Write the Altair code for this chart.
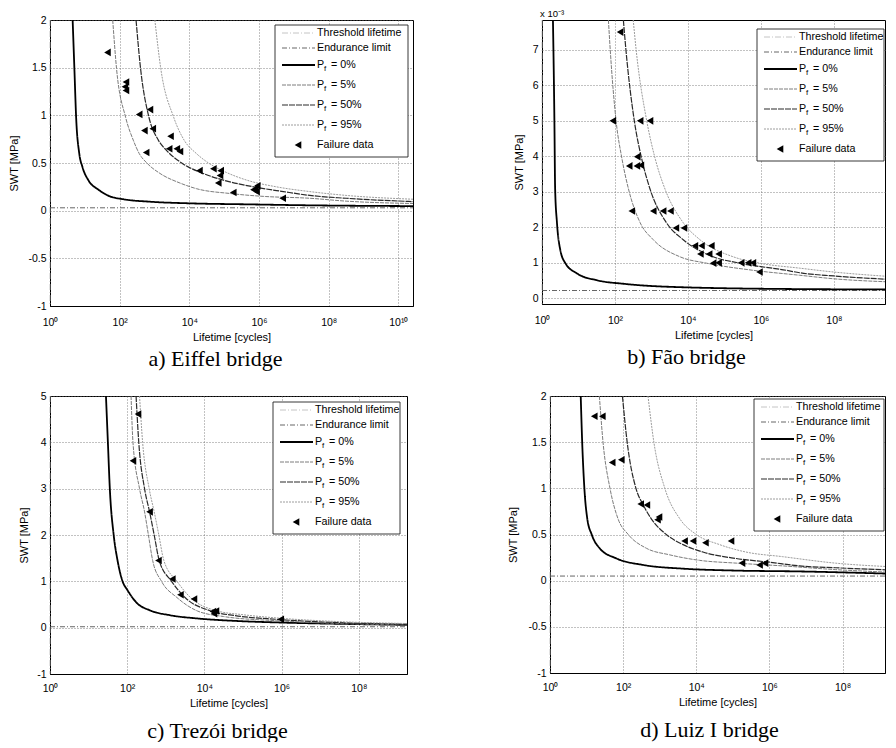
import altair as alt
import pandas as pd

# ---------------- data ----------------
# points are (log10 of lifetime in cycles, SWT in MPa)

# a) Eiffel bridge
A_P0 = [(0.65, 2.0), (0.70, 1.49), (0.75, 0.98), (0.84, 0.60), (0.93, 0.46), (1.10, 0.32),
        (1.39, 0.22), (1.72, 0.15), (2.10, 0.12), (2.87, 0.094), (4.0, 0.077), (5.74, 0.066),
        (7.46, 0.056), (10.42, 0.048)]
A_P5 = [(1.80, 2.0), (1.91, 1.49), (2.17, 0.98), (2.39, 0.74), (2.56, 0.60), (2.78, 0.50),
        (3.16, 0.39), (3.73, 0.29), (4.21, 0.23), (5.17, 0.18), (6.12, 0.15), (7.46, 0.13),
        (8.5, 0.10), (10.42, 0.075)]
A_P50 = [(2.47, 2.0), (2.60, 1.49), (2.84, 0.98), (3.11, 0.74), (3.35, 0.63), (3.78, 0.50),
         (4.40, 0.39), (4.98, 0.32), (5.84, 0.25), (6.70, 0.20), (7.46, 0.16), (8.5, 0.13),
         (10.42, 0.095)]
A_P95 = [(3.01, 2.0), (3.18, 1.49), (3.55, 0.98), (3.85, 0.74), (4.20, 0.60), (4.55, 0.50),
         (5.07, 0.40), (5.65, 0.32), (6.50, 0.25), (7.46, 0.20), (8.5, 0.16), (10.42, 0.12)]
A_FAIL = [(1.65, 1.66), (2.18, 1.35), (2.15, 1.30), (2.18, 1.26), (2.56, 1.01), (2.87, 1.06),
          (2.71, 0.84), (2.95, 0.86), (2.76, 0.61), (3.46, 0.78), (3.42, 0.65), (3.64, 0.65),
          (3.73, 0.62), (4.29, 0.42), (4.69, 0.44), (4.90, 0.42), (4.88, 0.37), (4.83, 0.29),
          (5.26, 0.19), (5.89, 0.22), (5.95, 0.26), (5.93, 0.20), (5.84, 0.22), (6.68, 0.13)]
A_ENDURANCE = 0.03
A_THRESHOLD = 0.0

# b) Fao bridge
B_P0 = [(0.30, 7.84e-3), (0.34, 5.0e-3), (0.36, 3.08e-3), (0.41, 2.13e-3), (0.50, 1.37e-3),
        (0.64, 0.99e-3), (0.96, 0.70e-3), (1.50, 0.51e-3), (2.23, 0.41e-3), (3.6, 0.32e-3),
        (7.06, 0.26e-3), (9.59, 0.25e-3)]
B_P5 = [(1.82, 7.84e-3), (1.87, 7.0e-3), (2.03, 5.0e-3), (2.19, 3.94e-3), (2.37, 3.08e-3),
        (2.69, 2.13e-3), (3.05, 1.65e-3), (3.78, 1.17e-3), (4.51, 0.99e-3), (5.78, 0.79e-3),
        (7.06, 0.65e-3), (8.0, 0.55e-3), (9.59, 0.46e-3)]
B_P50 = [(2.23, 7.84e-3), (2.30, 7.0e-3), (2.53, 5.0e-3), (2.73, 3.94e-3), (2.96, 3.08e-3),
         (3.41, 2.13e-3), (3.87, 1.65e-3), (4.69, 1.17e-3), (5.42, 0.99e-3), (6.69, 0.79e-3),
         (7.06, 0.72e-3), (8.0, 0.63e-3), (9.59, 0.53e-3)]
B_P95 = [(2.50, 7.84e-3), (2.58, 7.0e-3), (2.87, 5.0e-3), (3.10, 3.94e-3), (3.37, 3.08e-3),
         (3.87, 2.13e-3), (4.33, 1.65e-3), (5.24, 1.17e-3), (5.96, 0.99e-3), (7.06, 0.85e-3),
         (8.0, 0.74e-3), (9.59, 0.61e-3)]
B_FAIL = [(2.14, 7.5e-3), (1.94, 5.0e-3), (2.69, 5.0e-3), (2.96, 5.0e-3), (2.61, 3.99e-3),
          (2.39, 3.73e-3), (2.60, 3.73e-3), (2.71, 3.75e-3), (2.46, 2.46e-3), (3.05, 2.46e-3),
          (3.32, 2.46e-3), (3.52, 2.46e-3), (3.67, 1.98e-3), (3.89, 1.98e-3), (4.19, 1.48e-3),
          (4.37, 1.48e-3), (4.64, 1.48e-3), (4.34, 1.25e-3), (4.58, 1.25e-3), (4.84, 1.25e-3),
          (4.69, 0.99e-3), (4.84, 1.0e-3), (5.46, 1.0e-3), (5.65, 1.0e-3), (5.78, 1.0e-3),
          (5.96, 0.74e-3)]
B_ENDURANCE = 0.22e-3
B_THRESHOLD = 0.0

# c) Trezoi bridge
C_P0 = [(1.45, 5.0), (1.50, 4.0), (1.55, 3.0), (1.65, 2.0), (1.75, 1.45), (1.88, 1.0),
        (2.0, 0.82), (2.23, 0.55), (2.6, 0.37), (3.1, 0.27), (3.8, 0.20), (4.7, 0.15),
        (6.0, 0.11), (7.7, 0.08), (9.25, 0.06)]
C_P5 = [(2.10, 5.0), (2.15, 4.0), (2.32, 3.0), (2.45, 2.5), (2.55, 2.0), (2.66, 1.45),
        (2.89, 1.0), (3.29, 0.65), (3.82, 0.36), (4.5, 0.24), (5.87, 0.15), (7.5, 0.09),
        (9.25, 0.06)]
C_P50 = [(2.23, 5.0), (2.30, 4.0), (2.45, 3.0), (2.58, 2.5), (2.70, 2.0), (2.83, 1.45),
         (3.15, 1.0), (3.50, 0.65), (4.17, 0.36), (4.8, 0.26), (5.87, 0.18), (7.5, 0.11),
         (9.25, 0.075)]
C_P95 = [(2.32, 5.0), (2.40, 4.0), (2.57, 3.0), (2.70, 2.5), (2.82, 2.0), (2.95, 1.45),
         (3.29, 1.0), (3.64, 0.65), (4.34, 0.36), (5.0, 0.28), (5.87, 0.21), (7.5, 0.13),
         (9.25, 0.09)]
C_FAIL = [(2.28, 4.61), (2.15, 3.6), (2.58, 2.5), (2.81, 1.45), (3.17, 1.05), (3.38, 0.71),
          (3.73, 0.62), (4.22, 0.35), (4.30, 0.36), (4.25, 0.30), (5.98, 0.18)]
C_ENDURANCE = 0.02
C_THRESHOLD = 0.0

# d) Luiz I bridge
D_P0 = [(0.84, 2.0), (0.88, 1.5), (0.94, 1.0), (1.02, 0.67), (1.14, 0.5), (1.36, 0.35),
        (1.82, 0.24), (2.55, 0.17), (3.64, 0.13), (5.0, 0.11), (6.82, 0.10), (9.35, 0.075)]
D_P5 = [(1.35, 2.0), (1.45, 1.5), (1.64, 1.0), (1.86, 0.67), (2.14, 0.5), (2.64, 0.35),
        (3.27, 0.28), (4.09, 0.22), (5.09, 0.19), (6.36, 0.16), (7.8, 0.12), (9.35, 0.09)]
D_P50 = [(1.98, 2.0), (2.11, 1.5), (2.35, 1.0), (2.55, 0.82), (2.77, 0.67), (3.18, 0.5),
         (3.64, 0.39), (4.18, 0.31), (5.09, 0.24), (6.0, 0.20), (6.82, 0.16), (7.8, 0.14),
         (9.35, 0.115)]
D_P95 = [(2.68, 2.0), (2.84, 1.5), (3.14, 1.0), (3.55, 0.67), (4.0, 0.5), (4.64, 0.39),
         (5.36, 0.31), (6.36, 0.26), (7.8, 0.19), (9.35, 0.15)]
D_FAIL = [(1.21, 1.78), (1.43, 1.78), (1.70, 1.28), (1.95, 1.31), (2.48, 0.83), (2.65, 0.82),
          (2.94, 0.66), (2.98, 0.69), (3.68, 0.43), (3.91, 0.43), (4.25, 0.41), (4.95, 0.43),
          (5.25, 0.19), (5.73, 0.17), (5.88, 0.19)]
D_ENDURANCE = 0.05
D_THRESHOLD = 0.0

LEGEND_LABELS = ["Threshold lifetime", "Endurance limit", "= 0%", "= 5%", "= 50%", "= 95%",
                 "Failure data"]
X_TICKS = [1, 1e2, 1e4, 1e6, 1e8, 1e10]

# ---------------- styling ----------------
FONT = "Liberation Sans"
SERIF = "Liberation Serif"
STYLE = {
    "thr": dict(color="#b5b5b5", strokeDash=[6, 2, 1, 2], strokeWidth=0.8),
    "end": dict(color="#555555", strokeDash=[5, 2, 1, 2], strokeWidth=0.9),
    "p0": dict(color="#000000", strokeDash=[1, 0], strokeWidth=1.8),
    "p5": dict(color="#7c7c7c", strokeDash=[4, 1], strokeWidth=1.0),
    "p50": dict(color="#2a2a2a", strokeDash=[6, 1], strokeWidth=1.2),
    "p95": dict(color="#9c9c9c", strokeDash=[2, 1], strokeWidth=1.0),
}
LEGEND_KEYS = ["thr", "end", "p0", "p5", "p50", "p95", "fail"]
LEG_ROWS = [8, 23, 40, 60, 80, 100, 120]
LEG_H = 132
LEG_FS = 10.7
TRI = 58

SUP = ("datum.value < 10 ? '10\u2070' : datum.value < 1e3 ? '10\u00b2' : "
       "datum.value < 1e5 ? '10\u2074' : datum.value < 1e7 ? '10\u2076' : "
       "datum.value < 1e9 ? '10\u2078' : '10\u00b9\u2070'")


def pts_df(pts):
    return pd.DataFrame({"N": [10 ** e for e, _ in pts], "swt": [v for _, v in pts]})


ONE = pd.DataFrame({"k": [0]})


def txt(text, x, y, size=LEG_FS):
    return (alt.Chart(ONE)
            .mark_text(text=text, align="left", baseline="middle", font=FONT,
                       fontSize=size, color="black")
            .encode(x=alt.value(x), y=alt.value(y)))


def panel(curves, fail, endurance, threshold, xmax, ydom, yvals, ylab, w, h, box, cap,
          cap_dx, cap_off, ytp, xlp, note=None):
    X = alt.X("N:Q",
              scale=alt.Scale(type="log", domain=[1, 10 ** xmax], nice=False),
              axis=alt.Axis(values=[v for v in X_TICKS if v <= 10 ** xmax], labelExpr=SUP,
                            title="Lifetime [cycles]", labelFlush=False, labelOverlap=False,
                            labelPadding=xlp, titlePadding=4))
    Y = alt.Y("swt:Q",
              scale=alt.Scale(domain=ydom, nice=False, zero=False),
              axis=alt.Axis(values=yvals, labelExpr=ylab, title="SWT [MPa]",
                            labelFlush=False, labelOverlap=False, labelPadding=4,
                            titlePadding=ytp))
    layers = []
    layers.append(alt.Chart(pd.DataFrame({"N": [10 ** threshold]}))
                  .mark_rule(**STYLE["thr"])
                  .encode(x=X, y=alt.value(0), y2=alt.value(h)))
    layers.append(alt.Chart(pd.DataFrame({"swt": [endurance]}))
                  .mark_rule(**STYLE["end"])
                  .encode(y=Y, x=alt.value(0), x2=alt.value(w)))
    for key, pts in zip(["p0", "p5", "p50", "p95"], curves):
        layers.append(alt.Chart(pts_df(pts))
                      .mark_line(interpolate="monotone", clip=True, **STYLE[key])
                      .encode(x=X, y=Y))
    layers.append(alt.Chart(pts_df(fail))
                  .mark_point(shape="triangle-left", filled=True, color="black",
                              size=TRI, opacity=1, clip=True)
                  .encode(x=X, y=Y))
    # legend
    bx, by, bw = box
    layers.append(alt.Chart(ONE).mark_rect(fill="white", stroke="#222", strokeWidth=0.9)
                  .encode(x=alt.value(bx), x2=alt.value(bx + bw),
                          y=alt.value(by), y2=alt.value(by + LEG_H)))
    for key, row, lab in zip(LEGEND_KEYS, LEG_ROWS, LEGEND_LABELS):
        yy = by + row
        if key == "fail":
            layers.append(alt.Chart(ONE)
                          .mark_point(shape="triangle-left", filled=True, color="black",
                                      size=TRI, opacity=1)
                          .encode(x=alt.value(bx + 23), y=alt.value(yy)))
        else:
            layers.append(alt.Chart(ONE).mark_rule(**STYLE[key])
                          .encode(x=alt.value(bx + 7), x2=alt.value(bx + 40),
                                  y=alt.value(yy)))
        if lab.startswith("="):
            layers.append(txt("P", bx + 42, yy))
            layers.append(txt("f", bx + 49, yy + 4, 8))
            layers.append(txt(lab, bx + 56, yy))
        else:
            layers.append(txt(lab, bx + 42, yy))
    if note:
        layers.append(txt(note, -2, -6, 9.5))
    return alt.layer(*layers).properties(
        width=w, height=h,
        title=alt.Title(cap, orient="bottom", anchor="middle", dx=cap_dx, offset=cap_off,
                        font=SERIF, fontSize=22, fontWeight="normal", color="black"))


PLAIN = "'' + datum.value"

pa = panel([A_P0, A_P5, A_P50, A_P95], A_FAIL, A_ENDURANCE, A_THRESHOLD, 10.42, [-1, 2],
           [-1, -0.5, 0, 0.5, 1, 1.5, 2], PLAIN, 363, 286, (225, 5, 133),
           "a) Eiffel bridge", -16, 6, 8, 11)
pb = panel([B_P0, B_P5, B_P50, B_P95], B_FAIL, B_ENDURANCE, B_THRESHOLD, 9.40,
           [-0.16e-3, 7.84e-3], [i * 1e-3 for i in range(8)],
           "'' + round(datum.value * 1000)", 343, 284, (215, 9, 127),
           "b) Fão bridge", -27, 6, 8, 11, note="x 10\u207b\u00b3")
pc = panel([C_P0, C_P5, C_P50, C_P95], C_FAIL, C_ENDURANCE, C_THRESHOLD, 9.25, [-1, 5],
           [-1, 0, 1, 2, 3, 4, 5], PLAIN, 357, 278, (223, 6, 127),
           "c) Trezói bridge", -11, 12, 7, 9)
pd_ = panel([D_P0, D_P5, D_P50, D_P95], D_FAIL, D_ENDURANCE, D_THRESHOLD, 9.16, [-1, 2],
            [-1, -0.5, 0, 0.5, 1, 1.5, 2], PLAIN, 335, 277, (204, 3, 130),
            "d) Luiz I bridge", -8, 12, 9, 9)

top = alt.hconcat(pa, pb, spacing=129, bounds="flush")
bottom = alt.hconcat(pc, pd_, spacing=143, bounds="flush")
chart = (alt.vconcat(top, bottom, spacing=20)
         .properties(padding=0, background="white")
         .configure_view(stroke="black", strokeWidth=1)
         .configure_axis(labelFont=FONT, titleFont=FONT, labelFontSize=10.5, titleFontSize=11,
                         titleFontWeight="normal", labelColor="black", titleColor="black",
                         domainColor="black", domainWidth=1, ticks=False, grid=True,
                         gridColor="#666666", gridDash=[1, 2], gridWidth=0.8))

chart.save("out.html", embed_options={"renderer": "svg", "actions": False})
